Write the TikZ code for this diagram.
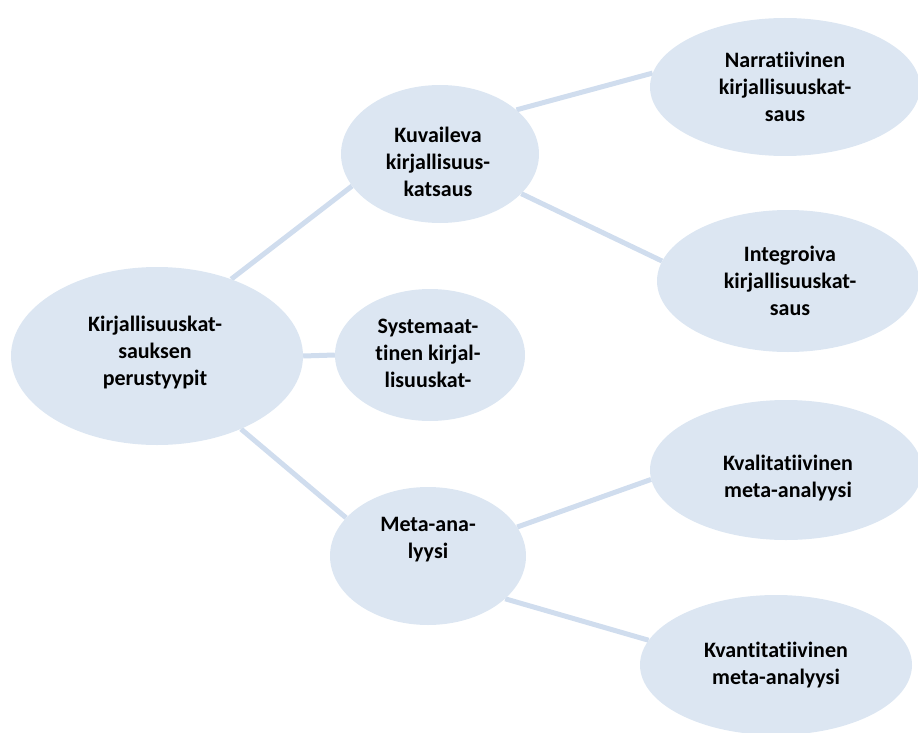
\documentclass[tikz,border=0pt]{standalone}
\usepackage{fontspec}
\setmainfont{Carlito}[Ligatures=CommonOff]
\usetikzlibrary{shapes.geometric,backgrounds}
\definecolor{ellfill}{HTML}{DCE6F2}
\definecolor{linkcol}{HTML}{D0DDEE}
\begin{document}
\begin{tikzpicture}[x=1pt,y=-1pt,
  bub/.style={ellipse, fill=ellfill, draw=none, inner sep=0pt},
  txt/.style={inner sep=0pt, align=center,
    font=\bfseries\fontsize{22}{27}\selectfont, text=black},
  link/.style={draw=linkcol, line width=5pt}]
\useasboundingbox (0,0) rectangle (918,733);
\clip (0,0) rectangle (918,733);
\node[bub, minimum width=292pt, minimum height=178pt] (root) at (157,356) {};
\node[bub, minimum width=198pt, minimum height=138pt] (kuv) at (440,154) {};
\node[bub, minimum width=190pt, minimum height=132pt] (syst) at (430,355) {};
\node[bub, minimum width=196pt, minimum height=138pt] (meta) at (428,556) {};
\node[bub, minimum width=270pt, minimum height=138pt] (narr) at (785,87) {};
\node[bub, minimum width=262pt, minimum height=142pt] (integ) at (788,281) {};
\node[bub, minimum width=272pt, minimum height=140pt] (kval) at (786,470) {};
\node[bub, minimum width=272pt, minimum height=140pt] (kvant) at (776,665) {};
\node[txt] (roott) at (155,353) {Kirjallisuuskat-\\sauksen\\perustyypit};
\node[txt] (kuvt) at (438,162) {Kuvaileva\\kirjallisuus-\\katsaus};
\node[txt] (systt) at (428,353) {Systemaat-\\tinen kirjal-\\lisuuskat-};
\node[txt] (metat) at (428,540) {Meta-ana-\\lyysi};
\node[txt] (narrt) at (785,87) {Narratiivinen\\kirjallisuuskat-\\saus};
\node[txt] (integt) at (790,281) {Integroiva\\kirjallisuuskat-\\saus};
\node[txt] (kvalt) at (788,478) {Kvalitatiivinen\\meta-analyysi};
\node[txt] (kvantt) at (776,665) {Kvantitatiivinen\\meta-analyysi};
\begin{scope}[on background layer]
\draw[link] (root.46) -- (kuv.200);
\draw[link] (root.0) -- (syst.180);
\draw[link] (root.319) -- (meta.155);
\draw[link] (kuv.30) -- (narr.174);
\draw[link] (kuv.334) -- (integ.171);
\draw[link] (meta.18) -- (kval.184);
\draw[link] (meta.331) -- (kvant.169);
\end{scope}
\end{tikzpicture}
\end{document}
